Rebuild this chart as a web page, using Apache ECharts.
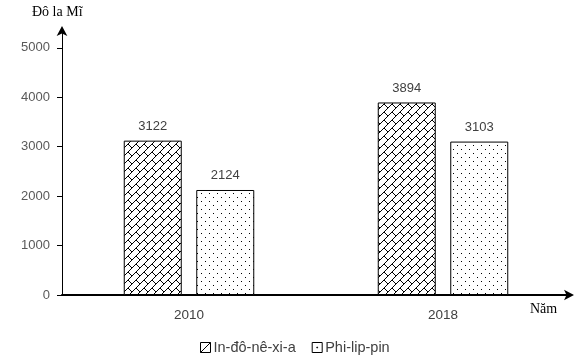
<!DOCTYPE html>
<html><head><meta charset="utf-8">
<script src="https://cdn.jsdelivr.net/npm/echarts@6/dist/echarts.min.js"></script>
<style>html,body{margin:0;padding:0;background:#fff}#c{width:576px;height:358px}</style>
</head><body><div id="c"></div>
<script>
const categories = ['2010', '2018'];
const seriesNames = ['In-đô-nê-xi-a', 'Phi-lip-pin'];
const indonesia = [3122, 3894];
const philippines = [2124, 3103];
const yTicks = [0, 1000, 2000, 3000, 4000, 5000];
const yTitle = 'Đô la Mĩ';
const xTitle = 'Năm';

function brickPattern() {
  const T = 8, c = document.createElement('canvas');
  c.width = T; c.height = T;
  const g = c.getContext('2d');
  g.fillStyle = '#fff'; g.fillRect(0, 0, T, T);
  g.strokeStyle = '#000'; g.lineWidth = 1;
  for (let dx = -T; dx <= T; dx += T) for (let dy = -T; dy <= T; dy += T) {
    g.beginPath();
    g.moveTo(dx - T, dy + 2 * T); g.lineTo(dx + 2 * T, dy - T);
    g.moveTo(dx + 0, dy + 0); g.lineTo(dx + 4, dy + 4);
    g.stroke();
  }
  return c;
}
function dotPattern() {
  const T = 8, c = document.createElement('canvas');
  c.width = T; c.height = T;
  const g = c.getContext('2d');
  g.fillStyle = '#fff'; g.fillRect(0, 0, T, T);
  g.fillStyle = '#000';
  g.fillRect(1, 1, 1, 1); g.fillRect(5, 5, 1, 1);
  return c;
}

const chart = echarts.init(document.getElementById('c'), null, {renderer: 'canvas'});
const labelStyle = {show: true, position: 'top', distance: 8, color: '#404040', fontFamily: 'Liberation Sans', fontSize: 13};
chart.setOption({
  animation: false,
  grid: {left: 62, right: 6, top: 30, bottom: 63},
  legend: {
    left: 200, top: 340, padding: 0, itemWidth: 10, itemHeight: 10, itemGap: 16,
    itemStyle: {color: '#fff', borderColor: '#000', borderWidth: 1},
    textStyle: {color: '#404040', fontFamily: 'Liberation Sans', fontSize: 14.5, padding: [0, 0, 0, -2]},
    data: [
      {name: seriesNames[0], icon: 'path://M0,0L10,0L10,10L0,10Z M0,10L10,0'},
      {name: seriesNames[1], icon: 'path://M0,0L10,0L10,10L0,10Z M4.6,4.6L5.4,4.6L5.4,5.4L4.6,5.4Z'}
    ]
  },
  xAxis: {
    type: 'category', data: categories,
    axisLine: {lineStyle: {color: '#000', width: 2}, symbol: ['none', 'arrow'], symbolSize: [8, 10], symbolOffset: [0, 4]},
    axisTick: {show: false},
    axisLabel: {margin: 13, color: '#404040', fontFamily: 'Liberation Sans', fontSize: 13.5}
  },
  yAxis: {
    type: 'value', min: 0, max: 5360,
    splitLine: {show: false},
    axisLine: {show: true, lineStyle: {color: '#000', width: 1}, symbol: ['none', 'arrow'], symbolSize: [8, 10], symbolOffset: [0, 4]},
    axisTick: {show: true, length: 5, customValues: yTicks, lineStyle: {color: '#000'}},
    axisLabel: {customValues: yTicks, margin: 12, color: '#595959', fontFamily: 'Liberation Sans', fontSize: 13,
                formatter: v => String(v)}
  },
  graphic: [
    {type: 'text', left: 32, top: 5, style: {text: yTitle, fill: '#000', font: '14px "Liberation Serif"'}},
    {type: 'text', left: 530, top: 302, style: {text: xTitle, fill: '#000', font: '14px "Liberation Serif"'}}
  ],
  series: [
    {name: seriesNames[0], type: 'bar', data: indonesia, barWidth: 58, barGap: '25%',
     itemStyle: {color: {image: brickPattern(), repeat: 'repeat'}, borderColor: '#000', borderWidth: 1},
     label: labelStyle},
    {name: seriesNames[1], type: 'bar', data: philippines, barWidth: 58,
     itemStyle: {color: {image: dotPattern(), repeat: 'repeat'}, borderColor: '#000', borderWidth: 1},
     label: labelStyle}
  ]
});
</script></body></html>
